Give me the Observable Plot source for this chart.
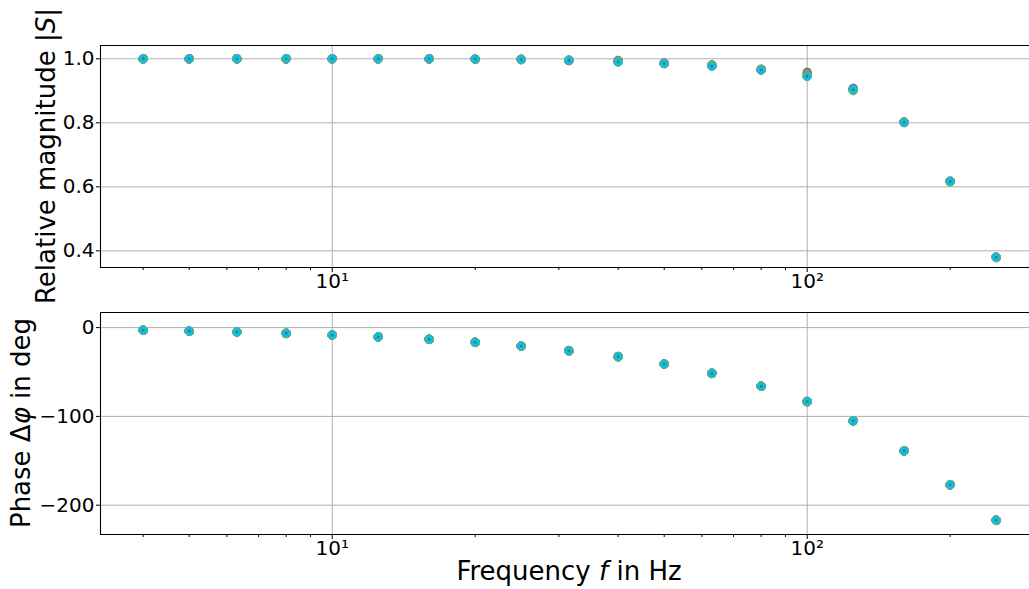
<!DOCTYPE html>
<html><head><meta charset="utf-8">
<script src="https://cdn.jsdelivr.net/npm/d3@7"></script>
<script src="https://cdn.jsdelivr.net/npm/@observablehq/plot@0.6"></script>
<style>
body{margin:0;background:#fff;overflow:hidden;}
#chart{position:relative;width:1029px;height:589px;font-family:"DejaVu Sans";background:#fff;}
#chart svg{position:absolute;left:0;}
</style></head><body><div id="chart"></div>
<script>
// Frequencies (Hz), third-octave steps
const freqs = [4, 5, 6.3, 8, 10, 12.5, 16, 20, 25, 31.5, 40, 50, 63, 80, 100, 125, 160, 200, 250];

// Relative magnitude |S| for each measured series (tab10 colour order)
const magBlue   = [1.0, 1.0, 1.0, 1.0, 1.0, 1.0, 1.0, 0.999, 0.998, 0.995, 0.991, 0.986, 0.979, 0.967, 0.958, 0.908, 0.802, 0.617, 0.380];
const magOrange = [1.0, 1.0, 1.0, 1.0, 1.0, 1.0, 1.0, 0.999, 0.998, 0.995, 0.992, 0.987, 0.980, 0.967, 0.953, 0.905, 0.802, 0.617, 0.380];
const magGreen  = [1.0, 1.0, 1.0, 1.0, 1.0, 1.0, 1.0, 0.999, 0.998, 0.995, 0.995, 0.986, 0.981, 0.967, 0.948, 0.904, 0.802, 0.617, 0.380];
const magRed    = [1.0, 1.0, 1.0, 1.0, 1.0, 1.0, 1.0, 0.999, 0.998, 0.995, 0.992, 0.986, 0.979, 0.966, 0.947, 0.904, 0.802, 0.617, 0.380];
const magPurple = [1.0, 1.0, 1.0, 1.0, 1.0, 1.0, 1.0, 0.999, 0.998, 0.995, 0.992, 0.986, 0.979, 0.966, 0.947, 0.906, 0.801, 0.617, 0.380];
const magBrown  = [1.0, 1.0, 1.0, 1.0, 1.0, 1.0, 1.0, 0.999, 0.998, 0.995, 0.992, 0.986, 0.979, 0.966, 0.948, 0.904, 0.802, 0.617, 0.380];
const magPink   = [1.0, 1.0, 1.0, 1.0, 1.0, 1.0, 1.0, 0.999, 0.998, 0.995, 0.992, 0.986, 0.979, 0.966, 0.947, 0.903, 0.802, 0.617, 0.380];
const magGray   = [1.0, 1.0, 1.0, 1.0, 1.0, 1.0, 1.0, 0.999, 0.998, 0.995, 0.991, 0.985, 0.978, 0.965, 0.947, 0.902, 0.801, 0.616, 0.379];
const magOlive  = [1.0, 1.0, 1.0, 1.0, 1.0, 1.0, 1.0, 0.999, 0.998, 0.995, 0.991, 0.985, 0.978, 0.965, 0.946, 0.900, 0.801, 0.616, 0.379];
const magCyan   = [1.0, 1.0, 1.0, 1.0, 1.0, 1.0, 1.0, 0.999, 0.998, 0.995, 0.990, 0.985, 0.977, 0.965, 0.945, 0.903, 0.801, 0.617, 0.380];
const magSeries = [magBlue, magOrange, magGreen, magRed, magPurple, magBrown, magPink, magGray, magOlive, magCyan];

// Phase Δφ in degrees (all series coincide)
const phase = [-3.0, -4.0, -5.0, -6.5, -8.3, -10.4, -13.2, -16.6, -20.8, -26.0, -32.7, -41.0, -51.5, -66.0, -83.3, -105.0, -138.8, -177.0, -217.0];

const colors = ["#1f77b4", "#ff7f0e", "#2ca02c", "#d62728", "#9467bd", "#8c564b", "#e377c2", "#7f7f7f", "#bcbd22", "#17becf"];

// Tick values
const majorX = [10, 100];
const minorX = [4, 5, 6, 7, 8, 9, 20, 30, 40, 50, 60, 70, 80, 90, 200];
const magTicks = [0.4, 0.6, 0.8, 1.0];
const phaseTicks = [-200, -100, 0];

const xDomain = [3.252, 293.8];
const magDomain = [0.348, 1.0415];
const phaseDomain = [-233, 17];

const supFmt = d => "10" + (d === 10 ? "¹" : "²");
const minusFmt = d => d < 0 ? "\u2212" + (-d) : String(d);
const gridStyle = {stroke: "#b0b0b0", strokeOpacity: 1, strokeWidth: 1};

function seriesMarks(arrays) {
  const m = [];
  arrays.forEach((arr, i) => {
    const data = freqs.map((f, j) => ({f, v: arr[j]}));
    m.push(Plot.dot(data, {x: "f", y: "v", r: 4.3, fill: colors[i], stroke: colors[i], strokeWidth: 0.6}));
  });
  const last = arrays[arrays.length - 1];
  m.push(Plot.dot(freqs.map((f, j) => ({f, v: last[j]})), {x: "f", y: "v", r: 1.3, fill: "#1f77b4"}));
  return m;
}

function panel(opts) {
  return Plot.plot({
    width: 1029, height: opts.height,
    marginLeft: 100, marginRight: 0, marginTop: opts.mt, marginBottom: opts.mb,
    x: {type: "log", domain: xDomain},
    y: {domain: opts.yDomain},
    style: {fontFamily: "DejaVu Sans", fontSize: "20px", color: "black", background: "transparent", overflow: "visible"},
    marks: [
      Plot.gridY(opts.yTicks, gridStyle),
      Plot.gridX(majorX, gridStyle),
      Plot.axisY(opts.yTicks, {tickSize: 4, tickPadding: 2, tickFormat: opts.yFmt, label: null}),
      Plot.axisX(majorX, {tickSize: 5, tickPadding: 1, tickFormat: supFmt, label: null}),
      Plot.axisX(minorX, {tickSize: 3, tickFormat: () => "", label: null}),
      Plot.ruleX([xDomain[0]], {stroke: "black", strokeWidth: 1.1}),
      Plot.ruleY([opts.yDomain[0], opts.yDomain[1]], {stroke: "black", strokeWidth: 1.1}),
      ...opts.marks
    ]
  });
}

const topPanel = panel({
  height: 300, mt: 45, mb: 33, yDomain: magDomain, yTicks: magTicks,
  yFmt: d => d.toFixed(1), marks: seriesMarks(magSeries)
});
topPanel.style.top = "0px";

const bottomPanel = panel({
  height: 289, mt: 12, mb: 55, yDomain: phaseDomain, yTicks: phaseTicks,
  yFmt: minusFmt, marks: seriesMarks(magSeries.map(() => phase))
});
bottomPanel.style.top = "300px";

const chart = document.getElementById("chart");
chart.appendChild(bottomPanel);
chart.appendChild(topPanel);

// Axis titles with math styling
const t1 = d3.select(topPanel).append("text")
  .attr("transform", "translate(55,156) rotate(-90)")
  .attr("text-anchor", "middle").attr("font-size", 26).attr("fill", "black")
  .attr("font-family", "DejaVu Sans");
t1.append("tspan").text("Relative magnitude |");
t1.append("tspan").attr("font-style", "italic").text("S");
t1.append("tspan").text("|");

const t2 = d3.select(bottomPanel).append("text")
  .attr("transform", "translate(30,123) rotate(-90)")
  .attr("text-anchor", "middle").attr("font-size", 26).attr("fill", "black")
  .attr("font-family", "DejaVu Sans");
t2.append("tspan").text("Phase Δ");
t2.append("tspan").attr("font-style", "italic").text("φ");
t2.append("tspan").text(" in deg");

const t3 = d3.select(bottomPanel).append("text")
  .attr("x", 569).attr("y", 280)
  .attr("text-anchor", "middle").attr("font-size", 26).attr("fill", "black")
  .attr("font-family", "DejaVu Sans");
t3.append("tspan").text("Frequency ");
t3.append("tspan").attr("font-style", "italic").text("f");
t3.append("tspan").text(" in Hz");
</script></body></html>
